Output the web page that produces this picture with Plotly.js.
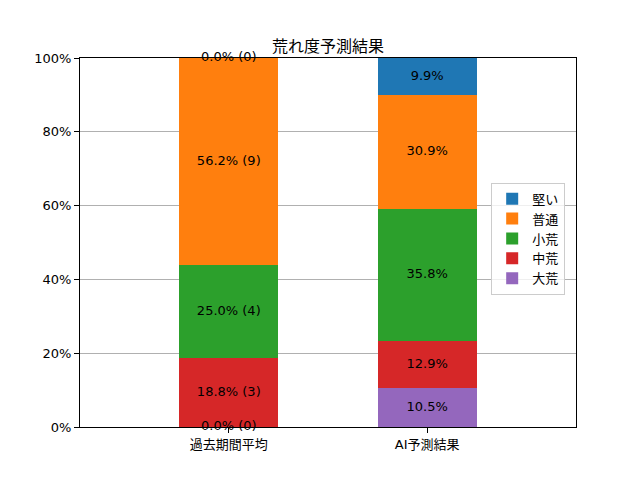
<!DOCTYPE html>
<html>
<head>
<meta charset="utf-8">
<script src="https://cdn.plot.ly/plotly-3.0.1.min.js"></script>
<style>
  body { margin: 0; background: #fff; }
  #chart { width: 640px; height: 480px; }
</style>
</head>
<body>
<div id="chart"></div>
<script>
// categories on the x axis
var groups = ['過去期間平均', 'AI予測結果'];

// stack order, bottom to top
var levels = ['大荒', '中荒', '小荒', '普通', '堅い'];
var colors = ['#9467bd', '#d62728', '#2ca02c', '#ff7f0e', '#1f77b4'];

// percentage per level (bottom to top)
var pastPct = [0.0, 18.8, 25.0, 56.2, 0.0];
var aiPct = [10.5, 12.9, 35.8, 30.9, 9.9];

// race counts for the past average
var pastCount = [0, 3, 4, 9, 0];

// y ticks
var yTicks = [0, 20, 40, 60, 80, 100];
var yTickText = yTicks.map(function (v) { return v + '%'; });

var font = '"DejaVu Sans", "Noto Sans CJK JP", sans-serif';
var fsize = 13;

var data = [];
for (var i = 0; i < levels.length; i++) {
  data.push({
    x: groups,
    y: [pastPct[i], aiPct[i]],
    name: levels[i],
    type: 'bar',
    width: 0.5,
    marker: { color: colors[i], line: { width: 0 } },
    hoverinfo: 'skip'
  });
}

// labels at the middle of every segment
var labX = [], labY = [], labT = [];
var basePast = 0, baseAi = 0;
for (var i = 0; i < levels.length; i++) {
  labX.push(groups[0]);
  labY.push(basePast + pastPct[i] / 2);
  labT.push(pastPct[i].toFixed(1) + '% (' + pastCount[i] + ')');
  basePast += pastPct[i];

  labX.push(groups[1]);
  labY.push(baseAi + aiPct[i] / 2);
  labT.push(aiPct[i].toFixed(1) + '%');
  baseAi += aiPct[i];
}
data.push({
  x: labX,
  y: labY,
  text: labT,
  mode: 'text',
  type: 'scatter',
  textposition: 'middle center',
  textfont: { family: font, size: fsize, color: '#000' },
  cliponaxis: false,
  showlegend: false,
  hoverinfo: 'skip'
});

var layout = {
  width: 640,
  height: 480,
  margin: { l: 80, r: 64, t: 58, b: 53 },
  paper_bgcolor: '#fff',
  plot_bgcolor: '#fff',
  font: { family: font, size: fsize, color: '#000' },
  barmode: 'stack',
  title: {
    text: '荒れ度予測結果',
    font: { family: font, size: 16, color: '#000' },
    x: 0.5, xref: 'paper', xanchor: 'center',
    y: 1, yref: 'paper', yanchor: 'bottom',
    pad: { b: 6 }
  },
  xaxis: {
    type: 'category',
    range: [-0.75, 1.75],
    showgrid: false,
    zeroline: false,
    showline: true,
    mirror: true,
    linecolor: '#000',
    linewidth: 1,
    ticks: 'outside',
    ticklen: 5,
    tickcolor: '#000',
    tickfont: { family: font, size: fsize, color: '#000' }
  },
  yaxis: {
    range: [0, 100],
    tickmode: 'array',
    tickvals: yTicks,
    ticktext: yTickText,
    showgrid: true,
    gridcolor: '#b0b0b0',
    gridwidth: 1,
    zeroline: false,
    showline: true,
    mirror: true,
    linecolor: '#000',
    linewidth: 1,
    ticks: 'outside',
    ticklen: 5,
    tickcolor: '#000',
    tickfont: { family: font, size: fsize, color: '#000' }
  },
  legend: {
    x: 0.829, y: 0.662,
    xanchor: 'left', yanchor: 'top',
    traceorder: 'reversed',
    bgcolor: 'rgba(255,255,255,0.8)',
    bordercolor: '#cccccc',
    borderwidth: 1,
    font: { family: font, size: fsize, color: '#000' }
  },
  showlegend: true
};

Plotly.newPlot('chart', data, layout, { displayModeBar: false, staticPlot: true });
</script>
</body>
</html>
